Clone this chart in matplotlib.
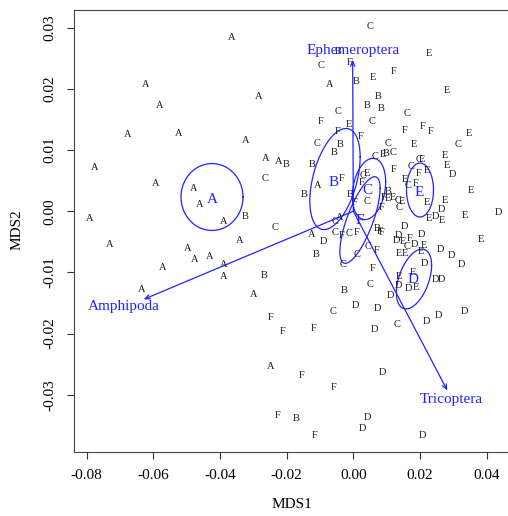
import numpy as np
import matplotlib
matplotlib.use('Agg')
from matplotlib import pyplot as plt

plt.rcParams['font.family'] = ['Liberation Serif', 'DejaVu Serif']

# site scores (MDS1, MDS2) per group
A_x = [-0.0624, -0.0580, -0.0678, -0.0524, -0.0776, -0.0592, -0.0478, -0.0462, -0.0792, -0.0730,
       -0.0496, -0.0476, -0.0430, -0.0572, -0.0636, -0.0390, -0.0342, -0.0390, -0.0390, -0.0298,
       -0.0366, -0.0284, -0.0322, -0.0264, -0.0224, -0.0248, -0.0070, -0.0108, -0.0040, -0.0125]
A_y = [0.02067, 0.01724, 0.0125, 0.01266, 0.00722, 0.00456, 0.00368, 0.00113, -0.00127, -0.00547,
       -0.00606, -0.00797, -0.00743, -0.00917, -0.01276, -0.00172, -0.00482, -0.00879, -0.0107, -0.01364,
       0.02842, 0.01877, 0.01152, 0.00858, 0.00815, -0.02541, 0.02078, 0.00428, -0.00103, -0.00373]

B_x = [-0.0045, 0.0010, -0.0040, -0.0058, -0.0200, -0.0124, -0.0147, -0.0324, -0.0266, -0.0112,
       -0.0026, -0.0170, 0.0076, 0.0042, 0.0084, 0.0098, 0.0106, -0.0009, 0.0072]
B_y = [0.02618, 0.02123, 0.01087, 0.00959, 0.00771, 0.00771, 0.00281, -0.0009, -0.01047, -0.00711,
       -0.01288, -0.0339, 0.01877, 0.01724, 0.01686, 0.00951, 0.0033, 0.00265, -0.00283]

C_x = [0.0050, -0.0098, -0.0047, -0.0110, -0.0264, -0.0234, -0.0056, -0.0055, -0.0014, -0.0030,
       0.0010, -0.0062, 0.0055, 0.0162, 0.0104, 0.0314, 0.0064, 0.0118, 0.0196, 0.0172,
       0.0028, 0.0042, 0.0133, 0.0138, 0.0165, 0.0160, 0.0044, 0.0049, 0.0130]
C_y = [0.03021, 0.02384, 0.01629, 0.01103, 0.00538, -0.0027, -0.00176, -0.00348, -0.00361, -0.00874,
       -0.00708, -0.01631, 0.01458, 0.016, 0.0111, 0.01087, 0.00891, 0.00956, 0.00837, 0.00727,
       0.00587, 0.00158, 0.00183, 0.00064, 0.00412, -0.0058, -0.0058, -0.01201, -0.01855]

D_x = [-0.0090, 0.0005, 0.0072, 0.0064, 0.0220, 0.0256, 0.0332, 0.0088, 0.0042, 0.0028,
       0.0206, 0.0298, 0.0264, 0.0246, 0.0434, 0.0154, 0.0203, 0.0134, 0.0130, 0.0183,
       0.0262, 0.0294, 0.0324, 0.0214, 0.0246, 0.0263, 0.0136, 0.0164, 0.0110]
D_y = [-0.00503, -0.01536, -0.0159, -0.01941, -0.01799, -0.01701, -0.01642, -0.02639, -0.03368, -0.03547,
       -0.03673, 0.00592, 0.00031, -0.00087, -0.00013, -0.00242, -0.00373, -0.00397, -0.00479, -0.00547,
       -0.00623, -0.00721, -0.00863, -0.00855, -0.01124, -0.01124, -0.01206, -0.01266, -0.01377]

E_x = [0.0226, 0.0058, 0.0280, -0.0012, 0.0348, 0.0182, 0.0088, 0.0276, 0.0206, 0.0280,
       0.0222, 0.0040, 0.0155, 0.0352, 0.0104, 0.0120, 0.0145, 0.0220, 0.0274, 0.0226,
       0.0266, 0.0334, 0.0384, 0.0148, 0.0212, 0.0204, 0.0137, 0.0154, 0.0180, 0.0136, 0.0188]
E_y = [0.02585, 0.02193, 0.01969, 0.01425, 0.01266, 0.01098, 0.00926, 0.00918, 0.00837, 0.00747,
       0.00673, 0.00619, 0.00521, 0.00346, 0.00211, 0.00221, 0.00155, 0.00142, 0.00172, -0.00123,
       -0.00155, -0.00078, -0.00459, -0.00487, -0.00564, -0.00662, -0.00683, -0.00683, -0.01002, -0.01059, -0.01239]

F_x = [-0.0010, 0.0122, -0.0097, -0.0047, 0.0022, 0.0154, 0.0208, 0.0232, -0.0034, 0.0122,
       0.0196, 0.0026, 0.0186, 0.0005, 0.0090, 0.0086, -0.0034, 0.0011, 0.0078, 0.0084,
       0.0168, 0.0070, 0.0058, -0.0248, -0.0212, -0.0120, -0.0154, -0.0060, -0.0226, -0.0116]
F_y = [0.02433, 0.02286, 0.01474, 0.0131, 0.01221, 0.01327, 0.01381, 0.01306, 0.00531, 0.00685,
       0.00619, 0.00469, 0.00456, 0.00139, 0.00221, 0.00064, -0.00405, -0.0034, -0.00337, -0.00348,
       -0.00454, -0.00639, -0.00944, -0.01737, -0.01962, -0.0192, -0.02681, -0.02877, -0.03346, -0.03662]

groups = ['A', 'B', 'C', 'D', 'E', 'F']
site_x = [A_x, B_x, C_x, D_x, E_x, F_x]
site_y = [A_y, B_y, C_y, D_y, E_y, F_y]

# group label positions
cent_x = [-0.0424, -0.0060, 0.0042, 0.0178, 0.0198, 0.0018]
cent_y = [0.00194, 0.00477, 0.00346, -0.01124, 0.00302, -0.00155]

# ordiellipse: centre, sd along x, sd along y, correlation
ell_cx = [-0.0424, -0.0055, 0.0047, 0.0182, 0.0200, 0.0020]
ell_cy = [0.00232, 0.00526, 0.00363, -0.01108, 0.00346, -0.00144]
ell_sx = [0.0093, 0.00755, 0.0050, 0.00528, 0.00405, 0.00604]
ell_sy = [0.00547, 0.00826, 0.00501, 0.00489, 0.00441, 0.00708]
ell_r = [0.0, 0.436, 0.236, 0.453, 0.0, 0.729]

# envfit vectors
taxa = ['Ephemeroptera', 'Amphipoda', 'Tricoptera']
vec_x = [-0.0002, -0.0629, 0.0282]
vec_y = [0.02475, -0.0144, -0.0293]
lab_x = [-0.0002, -0.0688, 0.02946]
lab_y = [0.0262, -0.01565, -0.03069]

blue = '#2222ff'

fig = plt.figure(figsize=(5.08, 5.16), dpi=100)
ax = fig.add_axes([74 / 508, 1 - 452 / 516, 1 - 74 / 508, (452 - 9.7) / 516])

for g, xs, ys in zip(groups, site_x, site_y):
    for x, y in zip(xs, ys):
        ax.text(x, y, g, fontsize=7.5, ha='center', va='center', color='#1a1a1a')

t = np.linspace(0, 2 * np.pi, 200)
for cx, cy, sx, sy, r in zip(ell_cx, ell_cy, ell_sx, ell_sy, ell_r):
    ex = cx + sx * np.cos(t)
    ey = cy + sy * (r * np.cos(t) + np.sqrt(1 - r ** 2) * np.sin(t))
    ax.plot(ex, ey, color=blue, lw=0.9)

for g, x, y in zip(groups, cent_x, cent_y):
    ax.text(x, y, g, fontsize=11, ha='center', va='center', color=blue)

for name, vx, vy, lx, ly in zip(taxa, vec_x, vec_y, lab_x, lab_y):
    ax.annotate('', xy=(vx, vy), xytext=(0, 0),
                arrowprops=dict(arrowstyle='->,head_length=0.35,head_width=0.15', color=blue, lw=0.9,
                                shrinkA=0, shrinkB=0))
    ax.text(lx, ly, name, fontsize=11, ha='center', va='center', color=blue)

ax.set_xlim(-0.0838, 0.0464)
ax.set_ylim(-0.03935, 0.03293)
ax.set_xticks([-0.08, -0.06, -0.04, -0.02, 0.00, 0.02, 0.04])
ax.set_xticklabels(['-0.08', '-0.06', '-0.04', '-0.02', '0.00', '0.02', '0.04'])
ax.set_yticks([-0.03, -0.02, -0.01, 0.00, 0.01, 0.02, 0.03])
ax.set_yticklabels(['-0.03', '-0.02', '-0.01', '0.00', '0.01', '0.02', '0.03'],
                   rotation=90, va='center')
ax.tick_params(axis='both', direction='out', length=5, width=0.8, color='#333333', labelsize=11)
ax.tick_params(axis='x', pad=7)
ax.tick_params(axis='y', pad=8)
for side in ['left', 'bottom', 'top']:
    ax.spines[side].set_color('#444444')
    ax.spines[side].set_linewidth(0.8)
ax.spines['right'].set_visible(False)

fig.text(292 / 508, 1 - 505 / 516, 'MDS1', fontsize=11, ha='center', va='center')
fig.text(17 / 508, 1 - 230 / 516, 'MDS2', fontsize=11, ha='center', va='center', rotation=90)

fig.savefig('out.png', dpi=100)
